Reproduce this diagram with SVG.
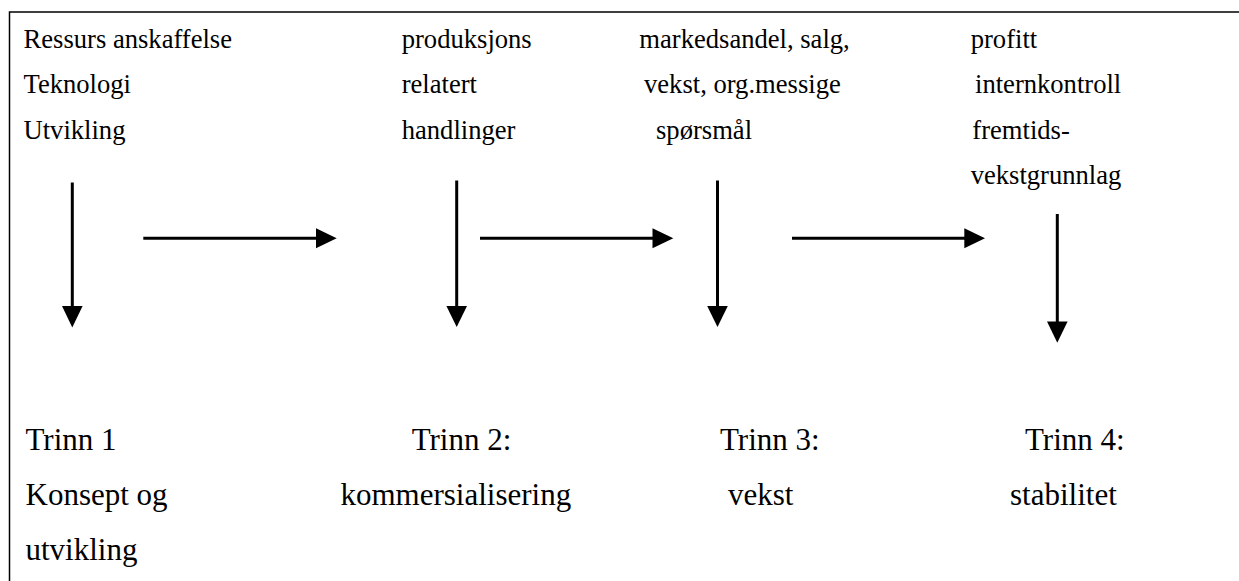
<svg xmlns="http://www.w3.org/2000/svg" width="1239" height="581" viewBox="0 0 1239 581">
  <style>
    .frame { fill: none; stroke: #000; stroke-width: 1.5; }
    .small { font-size: 26.6px; fill: #000; }
    .big { font-size: 31px; fill: #000; }
    .conn { stroke: #000; stroke-width: 3; fill: none; }
    .head { fill: #000; }
  </style>
  <rect width="1239" height="581" fill="#fff"/>
  <!-- frame: top and left edges only -->
  <path class="frame" d="M9.5 581 V12 H1239"/>

  <g font-family="Liberation Serif, Tinos, Times New Roman, DejaVu Serif, serif">
  <!-- stage 1 -->
  <g id="stage1">
    <text class="small" x="23.5" y="47.7">Ressurs anskaffelse</text>
    <text class="small" x="23.5" y="93.2">Teknologi</text>
    <text class="small" x="23.5" y="138.5">Utvikling</text>
    <text class="big" x="25.5" y="450">Trinn 1</text>
    <text class="big" x="25.5" y="505">Konsept og</text>
    <text class="big" x="25.5" y="560">utvikling</text>
  </g>

  <!-- stage 2 -->
  <g id="stage2">
    <text class="small" x="401.7" y="47.7">produksjons</text>
    <text class="small" x="401.7" y="93.2">relatert</text>
    <text class="small" x="401.7" y="138.5">handlinger</text>
    <text class="big" x="411.7" y="450">Trinn 2:</text>
    <text class="big" x="340.5" y="505">kommersialisering</text>
  </g>

  <!-- stage 3 -->
  <g id="stage3">
    <text class="small" x="639.3" y="47.7">markedsandel, salg,</text>
    <text class="small" x="644" y="93.2">vekst, org.messige</text>
    <text class="small" x="656" y="138.5">spørsmål</text>
    <text class="big" x="720" y="450">Trinn 3:</text>
    <text class="big" x="728" y="505">vekst</text>
  </g>

  <!-- stage 4 -->
  <g id="stage4">
    <text class="small" x="970.7" y="47.7">profitt</text>
    <text class="small" x="975" y="93.2">internkontroll</text>
    <text class="small" x="972.3" y="138.5">fremtids-</text>
    <text class="small" x="970.7" y="183.5">vekstgrunnlag</text>
    <text class="big" x="1025" y="450">Trinn 4:</text>
    <text class="big" x="1010" y="505">stabilitet</text>
  </g>
  </g>

  <!-- connectors -->
  <g id="connectors">
    <!-- vertical arrows -->
    <line class="conn" x1="72.3" y1="182.5" x2="72.3" y2="307"/>
    <polygon class="head" points="62,306 82.6,306 72.3,327.5"/>
    <line class="conn" x1="456.7" y1="180.5" x2="456.7" y2="307"/>
    <polygon class="head" points="446.4,306 467,306 456.7,327"/>
    <line class="conn" x1="717.5" y1="180.5" x2="717.5" y2="307"/>
    <polygon class="head" points="707.2,306 727.8,306 717.5,327"/>
    <line class="conn" x1="1057.3" y1="214" x2="1057.3" y2="322"/>
    <polygon class="head" points="1047,321.5 1067.6,321.5 1057.3,342.7"/>
    <!-- horizontal arrows -->
    <line class="conn" x1="143.3" y1="238.3" x2="317" y2="238.3"/>
    <polygon class="head" points="316,228.3 316,248.3 336.7,238.3"/>
    <line class="conn" x1="480" y1="238.3" x2="653" y2="238.3"/>
    <polygon class="head" points="652.5,228.3 652.5,248.3 673.3,238.3"/>
    <line class="conn" x1="792" y1="238.3" x2="965" y2="238.3"/>
    <polygon class="head" points="964.3,228.3 964.3,248.3 985,238.3"/>
  </g>
</svg>
